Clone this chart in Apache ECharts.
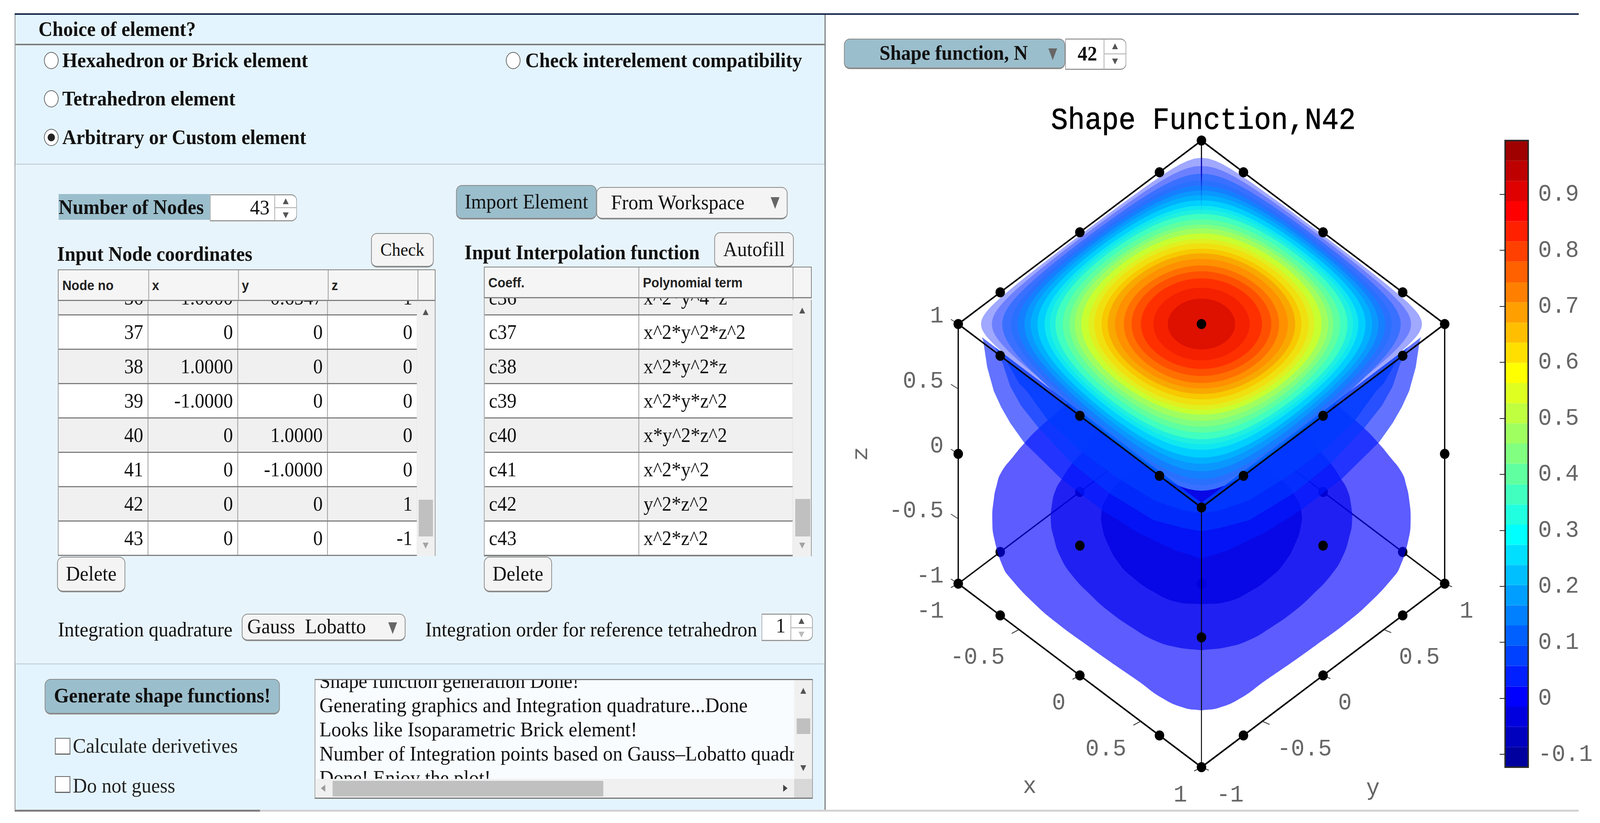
<!DOCTYPE html>
<html>
<head>
<meta charset="utf-8">
<title>Shape Function</title>
<script src="https://cdn.jsdelivr.net/npm/echarts@6/dist/echarts.min.js"></script>
<style>
html, body { margin: 0; padding: 0; width: 100%; height: 100%; overflow: hidden; background: #fff; }
#page { position: absolute; left: 0; top: 0; width: 4368px; height: 2108px; overflow: hidden; transform-origin: 0 0; font-family: "Liberation Serif", serif; font-size: 53.5px; color: #111; }
.a { position: absolute; white-space: pre; box-sizing: border-box; }
.b { font-weight: bold; font-size: 53px; }
.t { line-height: 60px; height: 60px; }
.btn { border: 2px solid #8a8a8a; border-bottom-width: 4px; border-radius: 16px; background: #f4f4f4; text-align: center; }
.blue { background: #9bbecc; }
.radio { width: 40px; height: 44px; border: 2px solid #666; border-radius: 50%; background: #fff; }
.check { width: 42px; height: 43px; border: 2px solid #666; border-bottom-width: 3px; background: #fff; }
.spin { background: #fff; border: 2px solid #999; border-bottom-width: 3px; border-top-color: #777; border-radius: 0 16px 16px 0; }
.up, .dn { width: 0; height: 0; border-left: 8px solid transparent; border-right: 8px solid transparent; }
.up { border-bottom: 15px solid #555; }
.dn { border-top: 15px solid #555; }
.up.big, .dn.big { border-left-width: 12px; border-right-width: 12px; }
.dn.big { border-top: 30px solid #666; }
.th { font-family: "Liberation Sans", sans-serif; font-weight: bold; font-size: 35px; background: #f5f5f5; color: #222; }
.row { position: relative; height: 88px; box-sizing: border-box; border-bottom: 3px solid #808080; font-size: 52px; }
.cell { position: absolute; top: 0; height: 85px; line-height: 85px; border-right: 2px solid #999; box-sizing: border-box; padding: 0 12px; }
#chart { position: absolute; left: 2262px; top: 0; width: 2106px; height: 2108px; }
</style>
</head>
<body>
<div id="page">
<!-- app chrome -->
<div class="a" style="left:40px;top:34px;width:4270px;height:4px;background:#16274a"></div>
<div class="a" style="left:40px;top:38px;width:2214px;height:2036px;background:#e4f4fe;border-left:2px solid #888;border-right:3px solid #777"></div>
<div class="a" style="left:42px;top:420px;width:2209px;height:1280px;background:#e8f4fb"></div>
<div class="a" style="left:42px;top:112px;width:2209px;height:4px;background:#808080"></div>
<div class="a" style="left:42px;top:419px;width:2209px;height:3px;background:#c8d4dc"></div>
<div class="a" style="left:42px;top:1699px;width:2209px;height:3px;background:#c8d4dc"></div>
<div class="a" style="left:40px;top:2074px;width:670px;height:5px;background:#808080"></div>
<div class="a" style="left:710px;top:2074px;width:3600px;height:5px;background:#d2d2d2"></div>

<div class="a t b" style="left:105px;top:44px">Choice of element?</div>
<div class="a radio" style="left:120px;top:133px"></div>
<div class="a t b" style="left:170px;top:124px">Hexahedron or Brick element</div>
<div class="a radio" style="left:1381px;top:133px"></div>
<div class="a t b" style="left:1434px;top:124px">Check interelement compatibility</div>
<div class="a radio" style="left:120px;top:231px"></div>
<div class="a t b" style="left:170px;top:222px">Tetrahedron element</div>
<div class="a radio" style="left:120px;top:330px"></div>
<div class="a" style="left:130px;top:342px;width:20px;height:20px;border-radius:50%;background:#222"></div>
<div class="a t b" style="left:170px;top:321px">Arbitrary or Custom element</div>

<div class="a b blue" style="left:160px;top:497px;width:413px;height:66px;line-height:66px">Number of Nodes</div>
<div class="a spin" style="left:573px;top:498px;width:238px;height:69px"></div>
<div class="a" style="left:640px;top:498px;width:96px;height:69px;line-height:66px;text-align:right">43</div>
<div class="a" style="left:749px;top:498px;width:2px;height:68px;background:#aaa"></div>
<div class="a" style="left:751px;top:531px;width:58px;height:2px;background:#aaa"></div>
<div class="a up" style="left:772px;top:508px"></div>
<div class="a dn" style="left:772px;top:544px"></div>

<div class="a btn blue" style="left:1245px;top:474px;width:384px;height:88px;line-height:80px">Import Element</div>
<div class="a btn" style="left:1628px;top:479px;width:522px;height:83px;line-height:75px;text-align:left;padding-left:38px">From Workspace</div>
<div class="a dn big" style="left:2104px;top:505px"></div>

<div class="a t b" style="left:156px;top:620px">Input Node coordinates</div>
<div class="a btn" style="left:1013px;top:597px;width:171px;height:88px;line-height:80px;font-size:47px">Check</div>
<div class="a t b" style="left:1268px;top:616px">Input Interpolation function</div>
<div class="a btn" style="left:1950px;top:595px;width:217px;height:90px;line-height:82px;font-size:53px">Autofill</div>

<!-- node table -->
<div class="a th" style="left:158px;top:690px;width:1031px;height:81px;border:2px solid #808080;border-bottom-width:3px"></div>
<div class="a th" style="left:170px;top:692px;height:78px;line-height:78px;background:none">Node no</div>
<div class="a th" style="left:415px;top:692px;height:78px;line-height:78px;background:none">x</div>
<div class="a th" style="left:660px;top:692px;height:78px;line-height:78px;background:none">y</div>
<div class="a th" style="left:905px;top:692px;height:78px;line-height:78px;background:none">z</div>
<div class="a" style="left:405px;top:692px;width:2px;height:78px;background:#999"></div>
<div class="a" style="left:650px;top:692px;width:2px;height:78px;background:#999"></div>
<div class="a" style="left:895px;top:692px;width:2px;height:78px;background:#999"></div>
<div class="a" style="left:1140px;top:692px;width:2px;height:78px;background:#999"></div>
<div class="a" id="nodeBody" style="left:158px;top:771px;width:1031px;height:653px;overflow:hidden;background:#fff;border-left:2px solid #999;border-bottom:3px solid #808080"></div>
<div class="a" style="left:1138px;top:771px;width:51px;height:653px;background:#f0f0f0;border-right:2px solid #999"></div>
<div class="a up" style="left:1154px;top:792px"></div>
<div class="a" style="left:1143px;top:1280px;width:39px;height:94px;background:#c0c0c0"></div>
<div class="a dn" style="left:1154px;top:1390px;opacity:.5"></div>

<!-- polynomial table -->
<div class="a th" style="left:1321px;top:683px;width:895px;height:81px;border:2px solid #808080;border-bottom-width:3px"></div>
<div class="a th" style="left:1333px;top:685px;height:78px;line-height:78px;background:none">Coeff.</div>
<div class="a th" style="left:1755px;top:685px;height:78px;line-height:78px;background:none">Polynomial term</div>
<div class="a" style="left:1743px;top:685px;width:2px;height:78px;background:#999"></div>
<div class="a" style="left:2164px;top:685px;width:2px;height:78px;background:#999"></div>
<div class="a" id="polyBody" style="left:1321px;top:764px;width:895px;height:661px;overflow:hidden;background:#fff;border-left:2px solid #999;border-bottom:3px solid #808080"></div>
<div class="a" style="left:2164px;top:768px;width:52px;height:657px;background:#f0f0f0;border-right:2px solid #999"></div>
<div class="a up" style="left:2182px;top:788px"></div>
<div class="a" style="left:2171px;top:1278px;width:41px;height:96px;background:#c0c0c0"></div>
<div class="a dn" style="left:2182px;top:1390px;opacity:.5"></div>

<div class="a btn" style="left:156px;top:1426px;width:186px;height:91px;line-height:83px;font-size:53px">Delete</div>
<div class="a btn" style="left:1321px;top:1426px;width:186px;height:91px;line-height:83px;font-size:53px">Delete</div>

<div class="a t" style="left:158px;top:1582px">Integration quadrature</div>
<div class="a btn" style="left:660px;top:1572px;width:447px;height:70px;line-height:60px;text-align:left;padding-left:13px">Gauss  Lobatto</div>
<div class="a dn big" style="left:1060px;top:1594px"></div>
<div class="a t" style="left:1161px;top:1582px">Integration order for reference tetrahedron</div>
<div class="a spin" style="left:2079px;top:1572px;width:140px;height:70px"></div>
<div class="a" style="left:2118px;top:1572px;height:70px;line-height:60px">1</div>
<div class="a" style="left:2158px;top:1573px;width:2px;height:68px;background:#aaa"></div>
<div class="a" style="left:2160px;top:1607px;width:58px;height:2px;background:#aaa"></div>
<div class="a up" style="left:2180px;top:1583px"></div>
<div class="a dn" style="left:2180px;top:1618px;opacity:.4"></div>

<div class="a btn blue b" style="left:122px;top:1739px;width:642px;height:91px;line-height:80px">Generate shape functions!</div>
<div class="a check" style="left:150px;top:1890px"></div>
<div class="a t" style="left:199px;top:1880px;color:#222">Calculate derivetives</div>
<div class="a check" style="left:150px;top:1988px"></div>
<div class="a t" style="left:199px;top:1982px;color:#222">Do not guess</div>

<!-- message log -->
<div class="a" id="logBox" style="left:859px;top:1739px;width:1360px;height:307px;overflow:hidden;background:#f8fcff;border:2px solid #999;border-top:3px solid #777;border-bottom:3px solid #777"></div>
<div class="a" style="left:2168px;top:1742px;width:49px;height:301px;background:#f0f0f0"></div>
<div class="a up" style="left:2185px;top:1762px"></div>
<div class="a" style="left:2175px;top:1840px;width:37px;height:40px;background:#c0c0c0"></div>
<div class="a dn" style="left:2185px;top:1960px"></div>
<div class="a" style="left:861px;top:1995px;width:1307px;height:48px;background:#f0f0f0"></div>
<div class="a" style="left:2168px;top:1995px;width:49px;height:48px;background:#d8d8d8"></div>
<div class="a" style="left:908px;top:2000px;width:739px;height:40px;background:#c0c0c0"></div>
<div class="a" style="left:876px;top:2010px;width:0;height:0;border-top:9px solid transparent;border-bottom:9px solid transparent;border-right:12px solid #999"></div>
<div class="a" style="left:2138px;top:2010px;width:0;height:0;border-top:9px solid transparent;border-bottom:9px solid transparent;border-left:12px solid #444"></div>

<div class="a btn blue b" style="left:2304px;top:99px;width:604px;height:78px;line-height:68px;text-align:left;padding-left:95px">Shape function, N</div>
<div class="a dn big" style="left:2862px;top:124px"></div>
<div class="a spin" style="left:2908px;top:99px;width:167px;height:80px"></div>
<div class="a b" style="left:2942px;top:99px;height:80px;line-height:76px">42</div>
<div class="a" style="left:3013px;top:100px;width:2px;height:78px;background:#aaa"></div>
<div class="a" style="left:3015px;top:137px;width:58px;height:2px;background:#aaa"></div>
<div class="a up" style="left:3036px;top:111px"></div>
<div class="a dn" style="left:3036px;top:150px"></div>

<div id="chart"></div>
</div>

<script>
// the window can be smaller than the layout size, so fit the whole page into it
document.getElementById('page').style.transform = 'scale(' + (window.innerWidth / 4368) + ',' + (window.innerHeight / 2108) + ')';

// table contents of the app panel
var nodeRows = [
    ['36', '1.0000', '0.6547', '1'],
    ['37', '0', '0', '0'],
    ['38', '1.0000', '0', '0'],
    ['39', '-1.0000', '0', '0'],
    ['40', '0', '1.0000', '0'],
    ['41', '0', '-1.0000', '0'],
    ['42', '0', '0', '1'],
    ['43', '0', '0', '-1']
];
var polyRows = [
    ['c36', 'x^2*y^4*z'],
    ['c37', 'x^2*y^2*z^2'],
    ['c38', 'x^2*y^2*z'],
    ['c39', 'x^2*y*z^2'],
    ['c40', 'x*y^2*z^2'],
    ['c41', 'x^2*y^2'],
    ['c42', 'y^2*z^2'],
    ['c43', 'x^2*z^2']
];
var logLines = [
    'Shape function generation Done!',
    'Generating graphics and Integration quadrature...Done',
    'Looks like Isoparametric Brick element!',
    'Number of Integration points based on Gauss\u2013Lobatto quadr',
    'Done! Enjoy the plot!'
];

// colour bar: band edges and band colours, bottom to top
var barEdges = [-0.123, -0.087, -0.051, -0.015, 0.021, 0.058, 0.094, 0.130, 0.166, 0.202, 0.238,
    0.274, 0.310, 0.346, 0.382, 0.419, 0.455, 0.491, 0.527, 0.563, 0.599,
    0.635, 0.671, 0.707, 0.743, 0.780, 0.816, 0.852, 0.888, 0.924, 0.960, 0.996];
var barColors = ['#00009f', '#0000bf', '#0000df', '#0000ff', '#0020ff', '#0040ff', '#0060ff', '#0080ff',
    '#009fff', '#00bfff', '#00dfff', '#00ffff', '#20ffdf', '#40ffbf', '#60ff9f', '#80ff80',
    '#9fff60', '#bfff40', '#dfff20', '#ffff00', '#ffdf00', '#ffbf00', '#ff9f00', '#ff8000',
    '#ff6000', '#ff4000', '#ff2000', '#ff0000', '#df0000', '#bf0000', '#9f0000'];
var barTicks = [-0.1, 0, 0.1, 0.2, 0.3, 0.4, 0.5, 0.6, 0.7, 0.8, 0.9];

// box axes
var zTicks = [-1, -0.5, 0, 0.5, 1];
var xTicks = [-1, -0.5, 0, 0.5, 1];
var yTicks = [-1, -0.5, 0, 0.5, 1];

// element nodes seen through the surfaces
var hiddenNodes = [[-1, -0.6547, -1], [-1, 0, -1], [-1, 0.6547, -1], [-0.6547, 1, -1], [0, 1, -1], [0.6547, 1, -1],
    [0, 0, -1], [-1, 1, -1]];
// element nodes in front of the surfaces
var frontNodes = [[-1, 1, 1], [-1, -1, 1], [1, 1, 1], [1, -1, 1], [0, 0, 1],
    [-1, 0.6547, 1], [-1, 0, 1], [-1, -0.6547, 1], [-0.6547, 1, 1], [0, 1, 1], [0.6547, 1, 1],
    [-0.6547, -1, 1], [0, -1, 1], [0.6547, -1, 1], [1, -0.6547, 1], [1, 0, 1], [1, 0.6547, 1],
    [-1, -1, 0], [1, 1, 0], [1, -1, 0], [1, 0, 0], [0, -1, 0],
    [-1, -1, -1], [1, 1, -1], [1, -1, -1],
    [-0.6547, -1, -1], [0, -1, -1], [0.6547, -1, -1], [1, -0.6547, -1], [1, 0, -1], [1, 0.6547, -1]];

// negative level outlines, [half width, height] from top to bottom, in plane units
var blobOuter = [[0, 302], [110, 282], [230, 222], [330, 157], [398, 103], [445, 65], [481, 30], [514, -7], [547, -48],
    [559, -80], [567, -117], [571, -170], [565, -220], [542, -289], [522, -318], [457, -383], [391, -436],
    [314, -489], [253, -530], [171, -583], [110, -624], [49, -650], [0, -657]];
var blobMid = [[0, 162], [120, 142], [220, 102], [280, 62], [330, 0], [355, -27], [381, -64], [398, -92], [408, -129],
    [411, -175], [404, -211], [387, -260], [355, -309], [302, -362], [253, -403], [191, -444], [130, -477],
    [69, -495], [0, -503]];
var blobInner = [[0, 12], [130, -18], [220, -68], [262, -118], [273, -150], [271, -187], [257, -228], [228, -277],
    [191, -314], [130, -354], [69, -379], [0, -385]];

// lower walls of the three outermost positive levels
var wallOuter = [[600, 332], [596, 291], [585, 222], [567, 161], [547, 120], [522, 79], [485, 30], [383, -64],
    [273, -143], [171, -203], [69, -248], [0, -268]];
var wallSecond = [[563, 303], [542, 230], [522, 173], [493, 124], [445, 67], [355, -23], [253, -100], [130, -170],
    [49, -190], [0, -198]];
var wallThird = [[530, 234], [498, 181], [477, 161], [420, 87], [334, 10], [232, -60], [130, -119], [49, -145], [0, -152]];

// positive level rings on the top face, outermost first
var ringReach = [426, 405, 385, 368, 355, 342, 330, 317, 303, 293, 282, 268, 255, 245, 232, 218, 207, 193, 181, 167, 150, 135, 117, 93, 65];
var ringDrop = [426, 405, 427, 413, 397, 377, 358, 342, 322, 308, 295, 278, 263, 248, 232, 220, 208, 193, 179, 165, 151, 133, 115, 93, 65];
var ringColors = ['#a0a8ff', '#6c80ff', '#3a70ff', '#2a70ff', '#1480ff', '#0a98ff', '#00b0ff', '#00d0ff', '#10e8f0', '#20f0e0',
    '#40ffc0', '#60ff9f', '#80ff80', '#a0ff60', '#c8ff30', '#e0f020', '#f0e010', '#f8c800', '#f8a800', '#ff9000',
    '#ff7000', '#ff5000', '#ff3000', '#f42000', '#de1000'];
var ringFrontColors = [null, null, '#0058ff', '#0068ff', '#0078ff', '#0090ff', '#00a8ff', '#00c8ff'];

// rows of the two tables and the log
function fillTable(id, rows, colLeft, colWidth, alignRight) {
    var html = '';
    rows.forEach(function (row, i) {
        var first = i === 0 ? 'margin-top:' + (id === 'nodeBody' ? -51 : -44) + 'px;' : '';
        html += '<div class="row" style="' + first + 'background:' + (i % 2 === 0 ? '#f0f0f0' : '#fff') + '">';
        row.forEach(function (txt, k) {
            html += '<div class="cell" style="left:' + colLeft[k] + 'px;width:' + colWidth[k] + 'px;text-align:' + (alignRight ? 'right' : 'left') + '">' + txt + '</div>';
        });
        html += '</div>';
    });
    document.getElementById(id).innerHTML = html;
}
fillTable('nodeBody', nodeRows, [0, 245, 490, 735], [245, 245, 245, 245], true);
fillTable('polyBody', polyRows, [0, 422], [422, 421], false);
document.getElementById('logBox').innerHTML = logLines.map(function (l, i) {
    return '<div class="a" style="left:11px;top:' + (-29 + i * 62) + 'px;height:62px;line-height:62px">' + l + '</div>';
}).join('');

// orthographic view of the element box, page plane units
var unitU = 332, unitV = 235, unitZ = 332.5;
function project(p) {
    return [unitU * (p[0] + p[1]), unitZ * p[2] - unitV * (p[0] - p[1])];
}

// height of the front top edges at u, surfaces change colour below it
function frontEdge(u) {
    return 12 + project([1, -1, 1])[1] + Math.abs(u) * unitV / unitU;
}

// closed outline of a ring around the top face centre, reach above it and drop below it
function ringOutline(reach, drop) {
    var t = reach / (2 * unitV), c = Math.pow(1 - t * t, 2);
    var centre = project([0, 0, 1])[1];
    var steps = 48, top = [], bottom = [];
    for (var i = -steps; i <= steps; i++) {
        var a = t * Math.sin(i / steps * Math.PI / 2);
        var b = Math.sqrt(Math.max(0, a * a + 1 - Math.sqrt(4 * a * a + c)));
        top.push([2 * unitU * a, centre + reach * b / t]);
        bottom.unshift([2 * unitU * a, centre - drop * b / t]);
    }
    return top.concat(bottom);
}

function mirrored(rows) {
    var left = rows.map(function (r) { return [-r[0], r[1]]; });
    var right = rows.map(function (r) { return [r[0], r[1]]; }).reverse();
    return left.concat(right);
}

function wallOutline(rows) {
    var pts = mirrored(rows).map(function (p) { return [p[0], Math.min(p[1], frontEdge(p[0]))]; });
    pts.push([0, frontEdge(0)]);
    return pts;
}

// painter's order, back to front
var layers = [
    { pts: mirrored(blobOuter), fill: 'rgba(0,0,255,0.64)', smooth: 0.5 },
    { pts: mirrored(blobMid), fill: 'rgba(0,0,235,0.65)', smooth: 0.5 },
    { pts: mirrored(blobInner), fill: 'rgba(0,0,225,0.75)', smooth: 0.5 },
    { pts: wallOutline(wallOuter), fill: 'rgba(0,26,255,0.61)' },
    { pts: wallOutline(wallSecond), fill: 'rgba(0,57,255,0.6)' },
    { pts: wallOutline(wallThird), fill: 'rgba(0,59,255,0.75)' }
];
ringReach.forEach(function (reach, i) {
    var outline = ringOutline(reach, ringDrop[i]);
    if (i < 2) {
        outline = outline.map(function (p) { return [p[0], Math.max(p[1], frontEdge(p[0]))]; });
    }
    layers.push({ pts: outline, fill: ringColors[i] });
    if (ringFrontColors[i]) {
        layers.push({
            pts: ringOutline(reach, ringDrop[i]).map(function (p) { return [p[0], Math.min(p[1], frontEdge(p[0]))]; }),
            fill: ringFrontColors[i]
        });
    }
});

// box edges as pairs of model points
var backEdges = [
    [[-1, -1, -1], [-1, 1, -1], 3.5], [[1, 1, -1], [-1, 1, -1], 3.5]
];
var frontEdges = [
    [[-1, 1, 1], [-1, -1, 1], 4], [[-1, 1, 1], [1, 1, 1], 4], [[-1, -1, 1], [1, -1, 1], 4], [[1, 1, 1], [1, -1, 1], 4],
    [[-1, -1, -1], [1, -1, -1], 4], [[1, 1, -1], [1, -1, -1], 4],
    [[-1, -1, 1], [-1, -1, -1], 3.5], [[1, 1, 1], [1, 1, -1], 3.5], [[1, -1, 1], [1, -1, -1], 2.5]
];

function tickItems() {
    var items = [];
    zTicks.forEach(function (v) {
        items.push({ at: [-1, -1, v], dir: [-20, -12], text: String(v), off: [-40, -20], align: 'right' });
    });
    xTicks.forEach(function (v) {
        items.push({ at: [v, -1, -1], dir: [-20, 10], text: String(v), off: [-39, 71], align: 'right' });
    });
    yTicks.forEach(function (v) {
        items.push({ at: [1, v, -1], dir: [20, 8], text: String(v), off: [41, 71], align: 'left' });
    });
    return items;
}
var ticks = tickItems();

var labelFont = { fontFamily: 'Liberation Mono', fontSize: 62, fill: '#666' };

function edgeRenderer(list) {
    return function (params, api) {
        var e = list[params.dataIndex];
        var p1 = api.coord(project(e[0])), p2 = api.coord(project(e[1]));
        return {
            type: 'line',
            shape: { x1: p1[0], y1: p1[1], x2: p2[0], y2: p2[1] },
            style: { stroke: '#000', lineWidth: e[2] }
        };
    };
}

function indexData(list) {
    return list.map(function (d, i) { return [0, 0, i]; });
}

var myChart = echarts.init(document.getElementById('chart'), null, { renderer: 'svg' });

var option = {
    animation: false,
    title: {
        text: 'Shape Function,N42',
        left: 1018,
        top: 266,
        textAlign: 'center',
        textStyle: { fontFamily: 'Liberation Mono', fontSize: 77, fontWeight: 'normal', color: '#000', textBorderColor: '#000', textBorderWidth: 1 }
    },
    grid: [
        { left: 38, top: 240, width: 1800, height: 1850 },
        { left: 1847, top: 360, width: 63, height: 1605 }
    ],
    xAxis: [
        { gridIndex: 0, type: 'value', min: -980, max: 820, show: false },
        { gridIndex: 1, type: 'value', min: 0, max: 1, show: false }
    ],
    yAxis: [
        { gridIndex: 0, type: 'value', min: -927.5, max: 922.5, show: false },
        {
            gridIndex: 1,
            type: 'value',
            position: 'right',
            min: barEdges[0],
            max: barEdges[barEdges.length - 1],
            axisLine: { show: false },
            splitLine: { show: false },
            axisTick: { show: true, inside: true, length: 15, customValues: barTicks, lineStyle: { color: '#222', width: 2 } },
            axisLabel: {
                show: true,
                margin: 27,
                customValues: barTicks,
                formatter: function (v) { return String(v); },
                fontFamily: 'Liberation Mono',
                fontSize: 62,
                color: '#666'
            },
            z: 10
        }
    ],
    series: [
        {
            name: 'back edges',
            type: 'custom',
            z: 1,
            silent: true,
            clip: false,
            data: indexData(backEdges),
            renderItem: edgeRenderer(backEdges)
        },
        {
            name: 'hidden nodes',
            type: 'scatter',
            z: 2,
            silent: true,
            symbolSize: 26,
            itemStyle: { color: '#000', opacity: 1 },
            data: hiddenNodes.map(project)
        },
        {
            name: 'surfaces',
            type: 'custom',
            z: 3,
            silent: true,
            clip: false,
            data: indexData(layers),
            renderItem: function (params, api) {
                var l = layers[params.dataIndex];
                return {
                    type: 'polygon',
                    shape: { points: l.pts.map(function (p) { return api.coord(p); }), smooth: l.smooth || 0 },
                    style: { fill: l.fill }
                };
            }
        },
        {
            // back vertical edge seen through the thin outer levels
            name: 'back vertical edge',
            type: 'custom',
            z: 4,
            silent: true,
            clip: false,
            data: [[0, 0]],
            renderItem: function (params, api) {
                var p1 = api.coord(project([-1, 1, 1])), p2 = api.coord(project([-1, 1, 0.43]));
                return {
                    type: 'line',
                    shape: { x1: p1[0], y1: p1[1], x2: p2[0], y2: p2[1] },
                    style: {
                        lineWidth: 3,
                        stroke: {
                            type: 'linear', x: 0, y: p1[1], x2: 0, y2: p2[1], global: true,
                            colorStops: [
                                { offset: 0, color: '#000' }, { offset: 0.23, color: '#000' },
                                { offset: 0.24, color: '#00009a' }, { offset: 0.45, color: '#0000c0' },
                                { offset: 0.73, color: 'rgba(0,80,255,0.4)' }, { offset: 1, color: 'rgba(0,160,255,0)' }
                            ]
                        }
                    }
                };
            }
        },
        {
            name: 'front edges',
            type: 'custom',
            z: 5,
            silent: true,
            clip: false,
            data: indexData(frontEdges),
            renderItem: edgeRenderer(frontEdges)
        },
        {
            name: 'ticks',
            type: 'custom',
            z: 6,
            silent: true,
            clip: false,
            data: indexData(ticks),
            renderItem: function (params, api) {
                var t = ticks[params.dataIndex];
                var p = api.coord(project(t.at));
                return {
                    type: 'group',
                    children: [
                        {
                            type: 'line',
                            shape: { x1: p[0], y1: p[1], x2: p[0] + t.dir[0], y2: p[1] + t.dir[1] },
                            style: { stroke: '#333', lineWidth: 2 }
                        },
                        {
                            type: 'text',
                            style: Object.assign({ text: t.text, x: p[0] + t.off[0], y: p[1] + t.off[1], align: t.align, verticalAlign: 'middle' }, labelFont)
                        }
                    ]
                };
            }
        },
        {
            name: 'nodes',
            type: 'scatter',
            z: 7,
            silent: true,
            symbolSize: 26,
            itemStyle: { color: '#000', opacity: 1 },
            data: frontNodes.map(project)
        },
        {
            name: 'axis names',
            type: 'custom',
            z: 8,
            silent: true,
            clip: false,
            data: [[0, 0]],
            renderItem: function (params, api) {
                var px = api.coord(project([0, -1, -1])), py = api.coord(project([1, 0, -1])), pz = api.coord(project([-1, -1, 0]));
                return {
                    type: 'group',
                    children: [
                        { type: 'text', style: Object.assign({ text: 'x', x: px[0] - 137, y: px[1] + 284, align: 'center', verticalAlign: 'middle' }, labelFont) },
                        { type: 'text', style: Object.assign({ text: 'y', x: py[0] + 136, y: py[1] + 290, align: 'center', verticalAlign: 'middle' }, labelFont) },
                        { type: 'text', x: pz[0] - 265, y: pz[1], rotation: Math.PI / 2, style: Object.assign({ text: 'z', x: 0, y: 0, align: 'center', verticalAlign: 'middle' }, labelFont) }
                    ]
                };
            }
        },
        {
            name: 'colour bar',
            type: 'custom',
            xAxisIndex: 1,
            yAxisIndex: 1,
            z: 2,
            silent: true,
            data: barColors.map(function (c, i) { return [0, barEdges[i], i]; }),
            renderItem: function (params, api) {
                var i = params.dataIndex;
                var p1 = api.coord([0, barEdges[i + 1]]), p2 = api.coord([1, barEdges[i]]);
                return {
                    type: 'rect',
                    shape: { x: p1[0], y: p1[1], width: p2[0] - p1[0], height: p2[1] - p1[1] },
                    style: { fill: barColors[i] }
                };
            }
        },
        {
            name: 'colour bar frame',
            type: 'custom',
            xAxisIndex: 1,
            yAxisIndex: 1,
            z: 9,
            silent: true,
            clip: false,
            data: [[0, 0]],
            renderItem: function (params, api) {
                var p1 = api.coord([0, barEdges[barEdges.length - 1]]), p2 = api.coord([1, barEdges[0]]);
                return {
                    type: 'rect',
                    shape: { x: p1[0], y: p1[1], width: p2[0] - p1[0], height: p2[1] - p1[1] },
                    style: { fill: 'none', stroke: '#2a2a2a', lineWidth: 4 }
                };
            }
        }
    ]
};

myChart.setOption(option);
</script>
</body>
</html>
